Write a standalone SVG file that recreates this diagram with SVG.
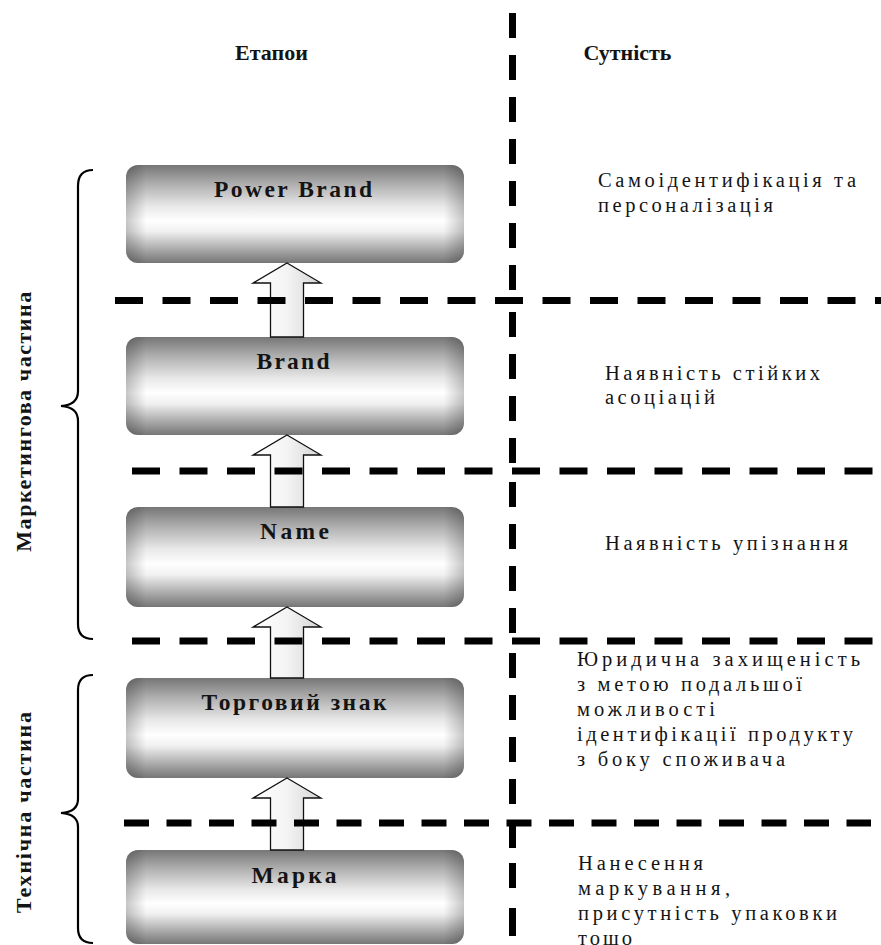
<svg xmlns="http://www.w3.org/2000/svg" width="881" height="945" viewBox="0 0 881 945">
<style>
  text { font-family: "Liberation Serif", "Times New Roman", serif; fill: #141414; }
  .hdr { font-size: 22px; font-weight: bold; }
  .lbl { font-size: 23.5px; font-weight: bold; text-anchor: middle; }
  .side { font-size: 22px; font-weight: bold; text-anchor: middle; }
  .desc { font-size: 20.5px; }
  .box { fill: url(#gv); }
  .edge { fill: url(#gh); }
  .arrow { fill: url(#ga); stroke: #111; stroke-width: 1.3; stroke-linejoin: miter; }
  .hd { stroke: #000; stroke-width: 7; fill: none; }
  .brace { stroke: #000; stroke-width: 2.2; fill: none; }
</style>
<defs>
  <linearGradient id="gv" x1="0" y1="0" x2="0" y2="1">
    <stop offset="0" stop-color="#767676"/>
    <stop offset="0.2" stop-color="#b0b0b0"/>
    <stop offset="0.42" stop-color="#e8e8e8"/>
    <stop offset="0.57" stop-color="#ffffff"/>
    <stop offset="0.68" stop-color="#f0f0f0"/>
    <stop offset="0.87" stop-color="#a6a6a6"/>
    <stop offset="1" stop-color="#767676"/>
  </linearGradient>
  <linearGradient id="gh" x1="0" y1="0" x2="1" y2="0">
    <stop offset="0" stop-color="#000" stop-opacity="0.22"/>
    <stop offset="0.06" stop-color="#000" stop-opacity="0"/>
    <stop offset="0.94" stop-color="#000" stop-opacity="0"/>
    <stop offset="1" stop-color="#000" stop-opacity="0.22"/>
  </linearGradient>
  <linearGradient id="ga" x1="0" y1="0" x2="1" y2="0">
    <stop offset="0" stop-color="#ffffff"/>
    <stop offset="0.5" stop-color="#f4f4f4"/>
    <stop offset="1" stop-color="#d4d4d4"/>
  </linearGradient>
</defs>
<rect width="881" height="945" fill="#ffffff"/>

<g id="headers">
  <text class="hdr" x="271.5" y="60" text-anchor="middle" textLength="73" lengthAdjust="spacing">Етапои</text>
  <text class="hdr" x="627.5" y="60" text-anchor="middle" textLength="88" lengthAdjust="spacing">Сутність</text>
</g>

<g id="node-power-brand">
  <rect class="box" x="126" y="165" width="338" height="98" rx="12"/>
  <rect class="edge" x="126" y="165" width="338" height="98" rx="12"/>
  <text class="lbl" x="293" y="197" textLength="158" lengthAdjust="spacing">Power Brand</text>
</g>
<g id="node-brand">
  <rect class="box" x="126" y="337" width="338" height="98" rx="12"/>
  <rect class="edge" x="126" y="337" width="338" height="98" rx="12"/>
  <text class="lbl" x="293" y="369" textLength="73" lengthAdjust="spacing">Brand</text>
</g>
<g id="node-name">
  <rect class="box" x="126" y="507" width="338" height="100" rx="12"/>
  <rect class="edge" x="126" y="507" width="338" height="100" rx="12"/>
  <text class="lbl" x="294.5" y="539" textLength="69" lengthAdjust="spacing">Name</text>
</g>
<g id="node-trademark">
  <rect class="box" x="126" y="678" width="338" height="100" rx="12"/>
  <rect class="edge" x="126" y="678" width="338" height="100" rx="12"/>
  <text class="lbl" x="294" y="710" textLength="185" lengthAdjust="spacing">Торговий знак</text>
</g>
<g id="node-marka">
  <rect class="box" x="126" y="850" width="338" height="94" rx="12"/>
  <rect class="edge" x="126" y="850" width="338" height="94" rx="12"/>
  <text class="lbl" x="294" y="883" textLength="85" lengthAdjust="spacing">Марка</text>
</g>

<g id="connectors">
  <polygon class="arrow" points="287,263 321,283 303.5,283 303.5,337 270.5,337 270.5,283 253,283"/>
  <polygon class="arrow" points="287,435 321,455 303.5,455 303.5,507 270.5,507 270.5,455 253,455"/>
  <polygon class="arrow" points="287,607 321,627 303.5,627 303.5,678 270.5,678 270.5,627 253,627"/>
  <polygon class="arrow" points="287,778 321,798 303.5,798 303.5,850 270.5,850 270.5,798 253,798"/>
</g>

<g id="separators">
  <line class="hd" x1="115" y1="300.5" x2="881" y2="300.5" stroke-dasharray="28 19.5"/>
  <line class="hd" x1="132" y1="471" x2="873" y2="471" stroke-dasharray="28 19.5"/>
  <line class="hd" x1="132" y1="641" x2="873" y2="641" stroke-dasharray="28 19.5"/>
  <line class="hd" x1="124" y1="823" x2="871" y2="823" stroke-dasharray="25 17.5"/>
  <line class="hd" x1="512.5" y1="13" x2="512.5" y2="297" stroke-dasharray="25 17"/>
  <line class="hd" x1="512.5" y1="312" x2="512.5" y2="468" stroke-dasharray="25 17"/>
  <line class="hd" x1="512.5" y1="482" x2="512.5" y2="638" stroke-dasharray="25 17"/>
  <line class="hd" x1="512.5" y1="653" x2="512.5" y2="819" stroke-dasharray="25 17"/>
  <line class="hd" x1="512.5" y1="820" x2="512.5" y2="945" stroke-dasharray="28 15 25 20"/>
</g>

<g id="brace-marketing">
  <path class="brace" d="M 93 170 Q 78 170 78 186 L 78 391 Q 78 405 61 406 Q 78 407 78 421 L 78 624 Q 78 639 93 639"/>
  <text class="side" transform="translate(31,421.7) rotate(-90)" x="0" y="0" textLength="260" lengthAdjust="spacing">Маркетингова частина</text>
</g>
<g id="brace-technical">
  <path class="brace" d="M 93 675 Q 78 675 78 690 L 78 799 Q 78 812 61 813 Q 78 814 78 827 L 78 928 Q 78 943 93 943"/>
  <text class="side" transform="translate(31,812.5) rotate(-90)" x="0" y="0" textLength="201" lengthAdjust="spacing">Технічна частина</text>
</g>

<g id="desc-power-brand">
  <text class="desc" x="598" y="187" textLength="258" lengthAdjust="spacing">Самоідентифікація та</text>
  <text class="desc" x="598" y="212" textLength="175" lengthAdjust="spacing">персоналізація</text>
</g>
<g id="desc-brand">
  <text class="desc" x="605" y="380" textLength="215" lengthAdjust="spacing">Наявність стійких</text>
  <text class="desc" x="605" y="404" textLength="110" lengthAdjust="spacing">асоціацій</text>
</g>
<g id="desc-name">
  <text class="desc" x="605" y="550" textLength="243" lengthAdjust="spacing">Наявність упізнання</text>
</g>
<g id="desc-trademark">
  <text class="desc" x="577" y="666" textLength="283" lengthAdjust="spacing">Юридична захищеність</text>
  <text class="desc" x="577" y="691" textLength="225" lengthAdjust="spacing">з метою подальшої</text>
  <text class="desc" x="577" y="716" textLength="138" lengthAdjust="spacing">можливості</text>
  <text class="desc" x="577" y="741" textLength="276" lengthAdjust="spacing">ідентифікації продукту</text>
  <text class="desc" x="577" y="766" textLength="208" lengthAdjust="spacing">з боку споживача</text>
</g>
<g id="desc-marka">
  <text class="desc" x="578" y="870" textLength="125" lengthAdjust="spacing">Нанесення</text>
  <text class="desc" x="578" y="895" textLength="152" lengthAdjust="spacing">маркування,</text>
  <text class="desc" x="578" y="920" textLength="259" lengthAdjust="spacing">присутність упаковки</text>
  <text class="desc" x="578" y="945" textLength="54" lengthAdjust="spacing">тощо</text>
</g>
</svg>
